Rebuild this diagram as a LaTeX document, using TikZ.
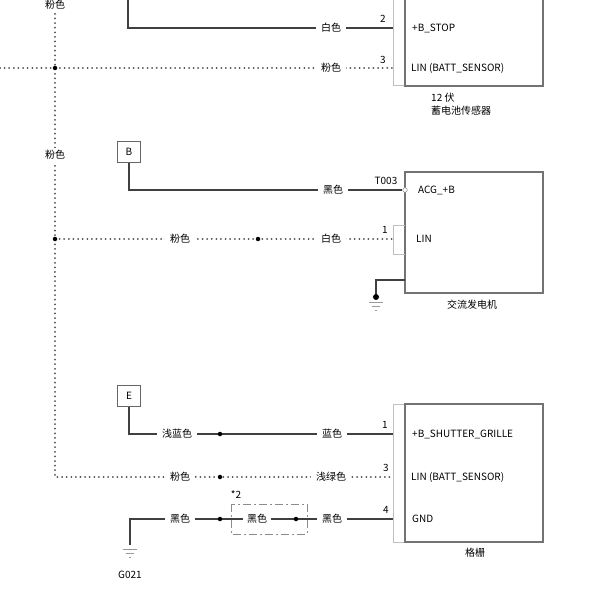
\documentclass[tikz,border=0pt]{standalone}
\usepackage{fontspec}
\setmainfont{Noto Sans CJK SC}
\begin{document}
\begin{tikzpicture}[x=1pt,y=-1pt,
  wire/.style={line width=1.6pt,draw=black!75},
  dwire/.style={line width=2pt,draw=black!70,line cap=round,dash pattern=on 0.01pt off 4.6pt},
  box/.style={draw=black!55,line width=1.5pt},
  strip/.style={draw=black!25,line width=1pt},
  lab/.style={fill=white,font=\fontsize{10}{12}\selectfont,inner xsep=5pt,inner ysep=2pt},
  txt/.style={font=\fontsize{10}{12}\selectfont,inner sep=0pt},
  pin/.style={font=\fontsize{10}{12}\selectfont,inner sep=0pt},
  jd/.style={circle,fill=black,inner sep=0pt,minimum size=4.5pt}]
\useasboundingbox (0,0) rectangle (609,604);
\coordinate (vt) at (55,0);
\coordinate (vb) at (55,477);
\draw[dwire] (vt) -- (vb) -- (393,477);
\node[lab] at (55,5) {粉色};
\node[lab] at (55,155) {粉色};
% --- box1
\draw[strip] (393,-2) -- (393,86) -- (405,86);
\draw[box] (405,-2) -- (405,86) -- (543,86) -- (543,-2);
\coordinate (w1a) at (128,0);
\draw[wire] (w1a) -- (128,28) -- (393,28);
\node[lab] at (331,28) {白色};
\node[pin] at (383,19) {2};
\node[txt,anchor=west] at (412,28) {+B\_STOP};
\coordinate (p1a) at (0,68);
\draw[dwire] (p1a) -- (393,68);
\node[jd] (j1) at (55,68) {};
\node[lab] at (331,68) {粉色};
\node[pin] at (383,60) {3};
\node[txt,anchor=west] at (411,68) {LIN (BATT\_SENSOR)};
\node[txt,anchor=west] at (431,98) {12 伏};
\node[txt,anchor=west] at (431,111) {蓄电池传感器};
% --- box2
\node[draw=black!60,line width=1pt,fill=white,minimum width=23pt,minimum height=21pt,inner sep=0pt,font=\fontsize{10}{12}\selectfont] (B) at (129,152) {B};
\draw[box] (405,172) rectangle (543,293);
\draw[wire] (B) |- (402,190);
\draw[black!40,fill=white,line width=0.6pt] (405,190) circle (2.3pt);
\node[lab] at (333,190) {黑色};
\node[pin] at (386,181) {T003};
\node[txt,anchor=west] at (418,190) {ACG\_+B};
\draw[strip] (405,225) -- (393,225) -- (393,254) -- (405,254);
\draw[dwire] (55,239) -- (393,239);
\node[jd] at (55,239) {};
\node[jd] at (258,239) {};
\node[lab] at (180,239) {粉色};
\node[lab] at (331,239) {白色};
\node[pin] at (385,230) {1};
\node[txt,anchor=west] at (416,239) {LIN};
\draw[wire] (405,280) -- (376,280) -- (376,297);
\node[jd,minimum size=6pt] at (376,297) {};
\draw[black!40,line width=0.8pt] (369,302) -- (383,302) (372,306) -- (380,306) (375,310) -- (377,310);
\node[txt] at (472,305) {交流发电机};
% --- box3
\node[draw=black!60,line width=1pt,fill=white,minimum width=23pt,minimum height=21pt,inner sep=0pt,font=\fontsize{10}{12}\selectfont] (E) at (129,396) {E};
\draw[strip] (405,404) -- (393,404) -- (393,542) -- (405,542);
\draw[box] (405,404) rectangle (543,542);
\draw[wire] (E) |- (393,434);
\node[jd] at (220,434) {};
\node[lab] at (177,434) {浅蓝色};
\node[lab] at (332,434) {蓝色};
\node[pin] at (385,425) {1};
\node[txt,anchor=west] at (412,434) {+B\_SHUTTER\_GRILLE};
\node[jd] at (220,477) {};
\node[lab] at (180,477) {粉色};
\node[lab] at (331,477) {浅绿色};
\node[pin] at (386,468) {3};
\node[txt,anchor=west] at (411,477) {LIN (BATT\_SENSOR)};
\coordinate (g) at (130,545);
\draw[wire] (g) |- (393,519);
\node[lab] at (180,519) {黑色};
\node[lab] at (332,519) {黑色};
\node[jd] at (220,519) {};
\node[jd] at (296,519) {};
\draw[black!45,line width=1pt,dash pattern=on 8pt off 3pt on 2pt off 3pt] (231,504) rectangle (307,534);
\node[lab,inner xsep=4pt] at (257,519) {黑色};
\node[pin] at (236,495) {*2};
\node[pin] at (386,510) {4};
\node[txt,anchor=west] at (412,519) {GND};
\draw[black!40,line width=0.8pt] (123,549) -- (137,549) (126,553) -- (134,553) (129,557) -- (131,557);
\node[txt] at (130,575) {G021};
\node[txt] at (475,553) {格栅};
\end{tikzpicture}
\end{document}
